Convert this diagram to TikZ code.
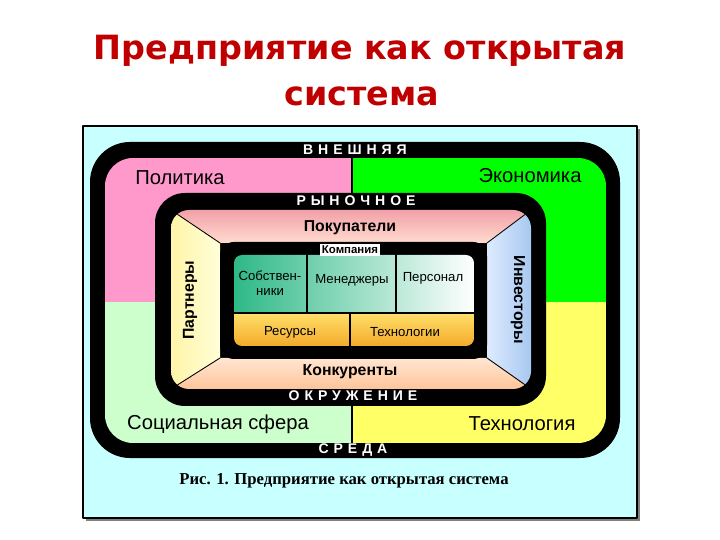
\documentclass[tikz,border=0pt]{standalone}
\usepackage{fontspec}
\setmainfont{Liberation Sans}
\newfontfamily\titlefont{DejaVu Sans}
\newfontfamily\capfont{Liberation Serif}
\newfontfamily\bandfont[LetterSpace=35]{Liberation Sans}
\definecolor{titlered}{HTML}{C00000}
\definecolor{panel}{HTML}{C8FFFF}
\definecolor{politics}{HTML}{FF99CC}
\definecolor{economy}{HTML}{00FF00}
\definecolor{social}{HTML}{CCFFCC}
\definecolor{techno}{HTML}{FFFF66}
\definecolor{buytop}{HTML}{F2A0A8}
\definecolor{buybot}{HTML}{FFDCCF}
\definecolor{comptop}{HTML}{FFE6D2}
\definecolor{compbot}{HTML}{FFC49A}
\definecolor{partl}{HTML}{FFF4A8}
\definecolor{partr}{HTML}{FFFFD8}
\definecolor{invl}{HTML}{DDEBFF}
\definecolor{invr}{HTML}{A8C8F0}
\definecolor{teal}{HTML}{2EB987}
\definecolor{resTop}{HTML}{FFDF6A}
\definecolor{resBot}{HTML}{F4AA2A}
\tikzset{
  bandlbl/.style={text=white, font=\bandfont\bfseries\fontsize{8}{9}\selectfont, inner sep=0pt},
  quadlbl/.style={font=\fontsize{11.5}{13}\selectfont, inner sep=0pt},
  mktlbl/.style={font=\bfseries\fontsize{9}{10}\selectfont, inner sep=0pt},
  celllbl/.style={font=\fontsize{7.5}{8.5}\selectfont, inner sep=0pt, align=center}
}
\begin{document}
\begin{tikzpicture}[x=0.02cm, y=-0.02cm, line join=round, line cap=round]
\useasboundingbox (0,0) rectangle (720,540);
\node[anchor=base, text=titlered, font=\titlefont\bfseries\fontsize{19}{22}\selectfont] (ttl1) at (360,60) {Предприятие как открытая};
\node[anchor=base, text=titlered, font=\titlefont\bfseries\fontsize{19}{22}\selectfont] (ttl2) at (362,106) {система};
\fill[black!50] (86,129) rectangle (640,521);
\filldraw[fill=panel, draw=black, line width=0.8pt] (83,126) rectangle (637,518);
\fill[rounded corners=0.8cm] (90,142) rectangle (620,458);
\begin{scope}
  \clip[rounded corners=0.56cm] (105,158) rectangle (606,443);
  \fill[politics] (105,158) rectangle (352,302);
  \fill[economy] (352,158) rectangle (606,302);
  \fill[social] (105,302) rectangle (352,443);
  \fill[techno] (352,302) rectangle (606,443);
\end{scope}
\draw[line width=1pt] (352,158) -- (352,443);
\fill[rounded corners=0.6cm] (155,193) rectangle (546,406);
\begin{scope}
  \clip[rounded corners=0.36cm] (171,210) rectangle (531,389);
  \shade[top color=buytop, bottom color=buybot] (171,210) -- (531,210) -- (487,243) -- (220,243) -- cycle;
  \shade[top color=comptop, bottom color=compbot] (171,389) -- (531,389) -- (487,358) -- (220,358) -- cycle;
  \shade[left color=partl, right color=partr] (171,210) -- (220,243) -- (220,358) -- (171,389) -- cycle;
  \shade[left color=invl, right color=invr] (531,210) -- (487,243) -- (487,358) -- (531,389) -- cycle;
  \draw[line width=0.5pt] (171,210) -- (220,243) (531,210) -- (487,243)
    (171,389) -- (220,358) (531,389) -- (487,358);
\end{scope}
\fill[rounded corners=0.28cm] (220,242) rectangle (487,359);
\begin{scope}
  \clip[rounded corners=0.16cm] (234,255) rectangle (474,346);
  \shade[left color=teal, right color=white] (234,255) rectangle (474,313);
  \shade[top color=resTop, bottom color=resBot] (234,313) rectangle (474,346);
\end{scope}
\draw[line width=1.2pt] (307,255) -- (307,313) (396,255) -- (396,313)
  (234,313) -- (474,313) (350,313) -- (350,346);
\node[fill=white, inner sep=1pt, font=\bfseries\fontsize{6.5}{7}\selectfont] (comp) at (350,250) {Компания};
\node[bandlbl] (ext) at (355,150) {ВНЕШНЯЯ};
\node[bandlbl] (mkt) at (356,201) {РЫНОЧНОЕ};
\node[bandlbl] (env) at (353,396) {ОКРУЖЕНИЕ};
\node[bandlbl] (sred) at (353,450) {СРЕДА};
\node[quadlbl] (pol) at (180,178) {Политика};
\node[quadlbl] (eco) at (530,176) {Экономика};
\node[quadlbl] (soc) at (218,424) {Социальная сфера};
\node[quadlbl] (tech) at (522,424) {Технология};
\node[mktlbl] (buy) at (350,228) {Покупатели};
\node[mktlbl] (rival) at (350,372) {Конкуренты};
\node[mktlbl, rotate=90] (partn) at (190,300) {Партнеры};
\node[mktlbl, rotate=-90] (invest) at (518,300) {Инвесторы};
\node[celllbl] (own) at (270,283) {Собствен-\\ники};
\node[celllbl] (mgr) at (352,280) {Менеджеры};
\node[celllbl] (staff) at (433,278) {Персонал};
\node[celllbl] (res) at (290,332) {Ресурсы};
\node[celllbl] (tec) at (405,332) {Технологии};
\node[font=\capfont\bfseries\fontsize{9.5}{11}\selectfont] (cap) at (344,481) {Рис. 1. Предприятие как открытая система};
\end{tikzpicture}
\end{document}
